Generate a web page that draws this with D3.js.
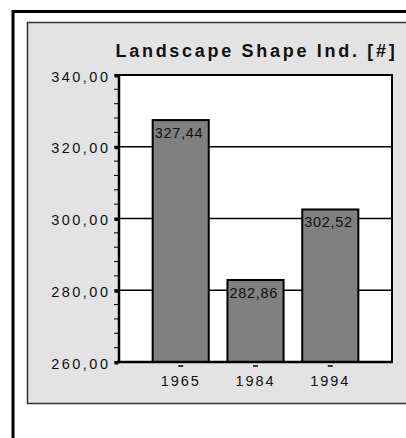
<!DOCTYPE html>
<html>
<head>
<meta charset="utf-8">
<script src="https://cdn.jsdelivr.net/npm/d3@7"></script>
<style>
  body { margin: 0; background: #fff; }
  svg { display: block; font-family: "Liberation Sans", Arial, sans-serif; }
</style>
</head>
<body>
<svg id="grafico" width="406" height="438"></svg>
<script>
// datos
const anios = ['1965', '1984', '1994']
const valores = [327.44, 282.86, 302.52]
const ticksMayores = [260, 280, 300, 320, 340]
const titulo = 'Landscape Shape Ind. [#]'

const width = 406, height = 438
const plot = { left: 119, top: 75, right: 392, bottom: 362 }

const svg = d3.select('#grafico')

// formato con coma decimal
const fmt = d3.formatLocale({ decimal: ',', thousands: '.', grouping: [3], currency: ['', ''] }).format('.2f')

// marco exterior (solo se ve arriba y a la izquierda)
svg.append('path')
    .attr('d', `M13,${height + 5} V11.5 H${width + 5}`)
    .attr('fill', 'none')
    .attr('stroke', '#000')
    .attr('stroke-width', 3)

// panel gris
svg.append('rect')
    .attr('x', 27.5).attr('y', 22.5)
    .attr('width', width).attr('height', 381)
    .attr('fill', '#e3e3e3')
    .attr('stroke', '#333')
    .attr('stroke-width', 1.5)

const x = d3.scaleBand()
    .domain(anios)
    .range([plot.left, plot.right])
    .paddingInner(0.25)
    .paddingOuter(0.45)

const y = d3.scaleLinear()
    .domain([260, 340])
    .range([plot.bottom, plot.top])

// area del grafico
svg.append('rect')
    .attr('x', plot.left).attr('y', plot.top)
    .attr('width', plot.right - plot.left)
    .attr('height', plot.bottom - plot.top)
    .attr('fill', '#fff')

// lineas de grilla
svg.append('g')
    .selectAll('line')
    .data(ticksMayores.filter(d => d > 260 && d < 340))
    .join('line')
    .attr('x1', plot.left).attr('x2', plot.right)
    .attr('y1', d => y(d)).attr('y2', d => y(d))
    .attr('stroke', '#000')
    .attr('stroke-width', 1.5)

// barras
svg.append('g')
    .selectAll('rect')
    .data(valores)
    .join('rect')
    .attr('x', (d, i) => x(anios[i]))
    .attr('y', d => y(d))
    .attr('width', x.bandwidth())
    .attr('height', d => y(260) - y(d))
    .attr('fill', '#808080')
    .attr('stroke', '#000')
    .attr('stroke-width', 2)

// etiquetas de valor dentro de las barras
svg.append('g')
    .selectAll('text')
    .data(valores)
    .join('text')
    .attr('x', (d, i) => x(anios[i]) + 2)
    .attr('y', d => y(d) + 18)
    .attr('font-size', 14.5)
    .attr('letter-spacing', 0.7)
    .attr('fill', '#111')
    .text(d => fmt(d))

// borde superior y derecho
svg.append('path')
    .attr('d', `M${plot.left},${plot.top} H${plot.right} V${plot.bottom}`)
    .attr('fill', 'none')
    .attr('stroke', '#000')
    .attr('stroke-width', 2)

// eje y
const ejeY = svg.append('g')
ejeY.selectAll('line.menor')
    .data(d3.range(260, 341, 4))
    .join('line')
    .attr('class', 'menor')
    .attr('x1', plot.left - 5).attr('x2', plot.left)
    .attr('y1', d => y(d)).attr('y2', d => y(d))
    .attr('stroke', '#000')
    .attr('stroke-width', 1)
ejeY.selectAll('rect')
    .data(ticksMayores)
    .join('rect')
    .attr('x', plot.left - 4.5).attr('y', d => y(d) - 1)
    .attr('width', 4).attr('height', 3.5)
    .attr('fill', '#000')
ejeY.selectAll('text')
    .data(ticksMayores)
    .join('text')
    .attr('x', plot.left - 8.5)
    .attr('y', d => y(d))
    .attr('dy', '0.46em')
    .attr('text-anchor', 'end')
    .attr('font-size', 14.5)
    .attr('letter-spacing', 2.5)
    .attr('fill', '#111')
    .text(d => fmt(d))
ejeY.append('line')
    .attr('x1', plot.left).attr('x2', plot.left)
    .attr('y1', plot.top - 1).attr('y2', plot.bottom)
    .attr('stroke', '#000')
    .attr('stroke-width', 2.5)

// eje x
const ejeX = svg.append('g')
ejeX.append('line')
    .attr('x1', plot.left - 2).attr('x2', plot.right + 1)
    .attr('y1', plot.bottom).attr('y2', plot.bottom)
    .attr('stroke', '#000')
    .attr('stroke-width', 2.5)
ejeX.selectAll('line.marca')
    .data(anios)
    .join('line')
    .attr('class', 'marca')
    .attr('x1', d => x(d) + x.bandwidth() / 2 - 2.5)
    .attr('x2', d => x(d) + x.bandwidth() / 2 + 2.5)
    .attr('y1', plot.bottom + 4).attr('y2', plot.bottom + 4)
    .attr('stroke', '#000')
    .attr('stroke-width', 1.5)
ejeX.selectAll('text')
    .data(anios)
    .join('text')
    .attr('x', d => x(d) + x.bandwidth() / 2)
    .attr('y', plot.bottom + 24)
    .attr('text-anchor', 'middle')
    .attr('font-size', 14.5)
    .attr('letter-spacing', 1.9)
    .attr('fill', '#111')
    .text(d => d)

// titulo
svg.append('text')
    .attr('x', (plot.left + plot.right) / 2 + 1)
    .attr('y', 57)
    .attr('text-anchor', 'middle')
    .attr('font-size', 18)
    .attr('font-weight', 'bold')
    .attr('letter-spacing', 2.7)
    .attr('fill', '#111')
    .text(titulo)
</script>
</body>
</html>
